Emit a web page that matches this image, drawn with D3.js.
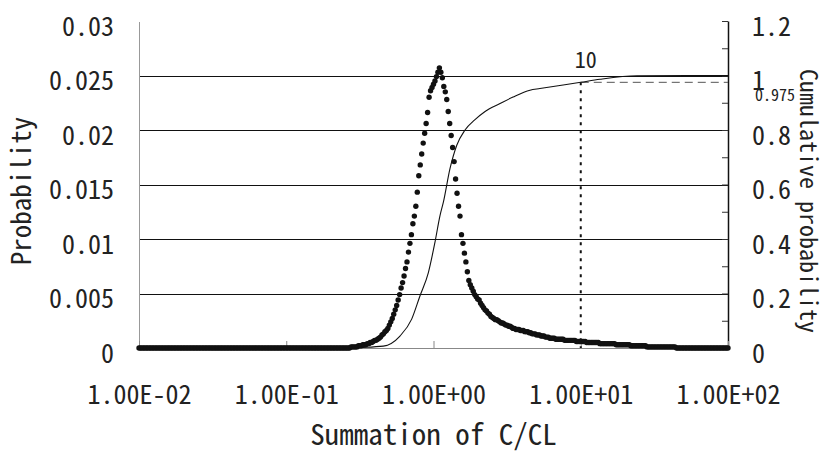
<!doctype html>
<html lang="en">
<head>
<meta charset="utf-8">
<title>Summation of C/CL</title>
<script src="https://cdnjs.cloudflare.com/ajax/libs/d3/7.8.5/d3.min.js"></script>
<style>
body { margin: 0; background: #fff; overflow: hidden; }
svg text {
    font-family: "Noto Sans CJK JP", sans-serif;
    font-feature-settings: "hwid" 1;
    fill: #222;
}
.tick text { font-size: 26px; }
</style>
</head>
<body>
<script>

var width = 828,
    height = 452;

// plot box (note: "top" is taken by window.top)
var plotLeft = 139, plotRight = 728, plotTop = 21, plotBottom = 348;

// x axis (log) ticks and labels
var xTicks = [0.01, 0.1, 1, 10, 100];
var xTickLabels = ["1.00E-02", "1.00E-01", "1.00E+00", "1.00E+01", "1.00E+02"];

// left axis (probability)
var yTicks = [0, 0.005, 0.01, 0.015, 0.02, 0.025, 0.03];
var yTickLabels = ["0", "0.005", "0.01", "0.015", "0.02", "0.025", "0.03"];

// right axis (cumulative probability)
var cTicks = [0, 0.2, 0.4, 0.6, 0.8, 1, 1.2];
var cTickLabels = ["0", "0.2", "0.4", "0.6", "0.8", "1", "1.2"];

// bins: log10(C/CL) from -2 to 2, step 0.01
var binLog10 = d3.range(401).map(function(i) { return -2 + i / 100; });

// probability of each bin, in units of 1e-4
var probE4 = [
  0,0,0,0,0,0,0,0,0,0,0,0,0,0,0,0,0,0,0,0,
  0,0,0,0,0,0,0,0,0,0,0,0,0,0,0,0,0,0,0,0,
  0,0,0,0,0,0,0,0,0,0,0,0,0,0,0,0,0,0,0,0,
  0,0,0,0,0,0,0,0,0,0,0,0,0,0,0,0,0,0,0,0,
  0,0,0,0,0,0,0,0,0,0,0,0,0,0,0,0,0,0,0,0,
  0,0,0,0,0,0,0,0,0,0,0,0,0,0,0,0,0,0,0,0,
  0,0,0,0,0,0,0,0,0,0,0,0,0,0,0,0,0,0,0,0,
  0,0,0,0,1,1,1,1,1,2,2,2,3,3,3,4,4,5,5,6,
  7,7,8,9,10,12,13,15,16,18,21,24,27,31,35,39,44,49,55,60,
  66,73,79,88,96,104,114,121,130,143,158,168,178,188,197,206,216,230,236,239,
  242,245,249,253,257,253,248,240,235,228,217,206,195,184,171,155,142,130,121,104,
  96,87,79,70,62,58,55,52,49,47,45,44,41,39,37,35,34,32,31,29,
  28,27,26,26,25,24,23,23,22,21,21,20,20,19,18,18,17,17,17,16,
  16,16,15,15,15,14,14,13,13,13,12,12,12,11,11,11,10,10,10,9,
  9,9,9,8,8,8,8,8,8,7,7,7,7,7,7,7,7,6,6,6,
  6,6,6,6,5,5,5,5,5,5,5,5,5,4,4,4,4,4,4,4,
  4,4,4,4,3,3,3,3,3,3,3,3,3,3,2,2,2,2,2,2,
  2,2,2,2,2,1,1,1,1,1,1,1,1,1,1,1,1,1,1,1,
  1,1,1,1,1,0,0,0,0,0,0,0,0,0,0,0,0,0,0,0,
  0,0,0,0,0,0,0,0,0,0,0,0,0,0,0,0,0,0,0,0,
  0
];

// cumulative probability curve
var cdfX = [0.01, 0.258, 0.317, 0.456, 0.592, 0.711, 0.809, 0.923, 1.023, 1.107, 1.167,
            1.294, 1.439, 1.637, 1.914, 2.24, 2.83, 3.47, 4.52, 5.28, 10, 13.5, 24.1, 100];
var cdfY = [0, 0, 0.002, 0.007, 0.044, 0.106, 0.191, 0.277, 0.388, 0.486, 0.535,
            0.658, 0.744, 0.80, 0.838, 0.868, 0.897, 0.921, 0.946, 0.952, 0.975, 0.986, 0.999, 1.0];

// 97.5 % point
var markX = 10, markC = 0.975;

var x = d3.scaleLog().domain([0.01, 100]).range([plotLeft, plotRight]);
var yP = d3.scaleLinear().domain([0, 0.03]).range([plotBottom, plotTop]);
var yC = d3.scaleLinear().domain([0, 1.2]).range([plotBottom, plotTop]);

var svg = d3.select("body")
    .append("svg")
    .attr("width", width)
    .attr("height", height);

// horizontal gridlines
svg.append("g")
    .attr("transform", "translate(" + plotLeft + ",0)")
    .call(d3.axisLeft(yP).tickValues(yTicks.slice(1, -1)).tickSize(-(plotRight - plotLeft)).tickFormat(""))
    .call(function(g) { g.select(".domain").remove(); })
    .selectAll("line")
    .attr("stroke", "#111")
    .attr("shape-rendering", "crispEdges");

// left axis
svg.append("g")
    .attr("transform", "translate(" + plotLeft + ",0)")
    .call(d3.axisLeft(yP).tickValues(yTicks).tickSize(0).tickPadding(25)
        .tickFormat(function(d, i) { return yTickLabels[i]; }))
    .call(function(g) {
        g.select(".domain").attr("stroke", "#999").attr("shape-rendering", "crispEdges");
        g.selectAll("text").attr("dy", "0.55em");
    });

// right axis, minor ticks each 0.1
svg.append("g")
    .attr("transform", "translate(" + plotRight + ",0)")
    .call(d3.axisRight(yC).tickValues(d3.range(0, 13).map(function(i) { return i / 10; }))
        .tickSize(-6).tickSizeOuter(0).tickPadding(24)
        .tickFormat(function(d) {
            var k = cTicks.findIndex(function(t) { return Math.abs(t - d) < 1e-9; });
            return k >= 0 ? cTickLabels[k] : "";
        }))
    .call(function(g) {
        g.select(".domain").attr("stroke", "#111").attr("stroke-width", 1.5);
        g.selectAll("line").attr("stroke", "#333");
        g.selectAll("text").attr("dy", "0.55em");
    });

// bottom axis
svg.append("g")
    .attr("transform", "translate(0," + plotBottom + ")")
    .call(d3.axisBottom(x).tickValues(xTicks).tickSize(-7).tickSizeOuter(0).tickPadding(38)
        .tickFormat(function(d, i) { return xTickLabels[i]; }))
    .call(function(g) {
        g.select(".domain").attr("stroke", "#888");
        g.selectAll("line").attr("stroke", "#888");
    });

// marker lines at 10 / 0.975
svg.append("line")
    .attr("x1", x(markX)).attr("x2", x(markX))
    .attr("y1", yC(markC)).attr("y2", plotBottom)
    .attr("stroke", "#111").attr("stroke-width", 2)
    .attr("stroke-dasharray", "3,5");

svg.append("line")
    .attr("x1", x(markX)).attr("x2", plotRight)
    .attr("y1", yC(markC)).attr("y2", yC(markC))
    .attr("stroke", "#555").attr("stroke-width", 1)
    .attr("stroke-dasharray", "8,5");

// cumulative curve
var cdf = cdfX.map(function(v, i) { return [v, cdfY[i]]; });
svg.append("path")
    .datum(cdf)
    .attr("fill", "none")
    .attr("stroke", "#111")
    .attr("stroke-width", 1.1)
    .attr("d", d3.line()
        .x(function(d) { return x(d[0]); })
        .y(function(d) { return yC(d[1]); })
        .curve(d3.curveMonotoneX));

// probability dots
svg.append("g")
    .selectAll("circle")
    .data(probE4)
    .join("circle")
    .attr("cx", function(d, i) { return x(Math.pow(10, binLog10[i])); })
    .attr("cy", function(d) { return yP(d / 1e4); })
    .attr("r", 2.7)
    .attr("fill", "#111");

// labels
svg.append("text")
    .attr("x", x(markX) + 5)
    .attr("y", yC(markC) - 14)
    .attr("text-anchor", "middle")
    .style("font-size", "22px")
    .text("10");

svg.append("text")
    .attr("x", 755)
    .attr("y", yC(markC) + 19)
    .style("font-size", "16px")
    .text("0.975");

svg.append("text")
    .attr("x", (plotLeft + plotRight) / 2)
    .attr("y", 445)
    .attr("text-anchor", "middle")
    .style("font-size", "29px")
    .text("Summation of C/CL");

svg.append("text")
    .attr("transform", "translate(31,191) rotate(-90)")
    .attr("text-anchor", "middle")
    .style("font-size", "27px")
    .text("Probability");

svg.append("text")
    .attr("transform", "translate(800,201) rotate(90)")
    .attr("text-anchor", "middle")
    .style("font-size", "24px")
    .text("Cumulative probability");

</script>
</body>
</html>
